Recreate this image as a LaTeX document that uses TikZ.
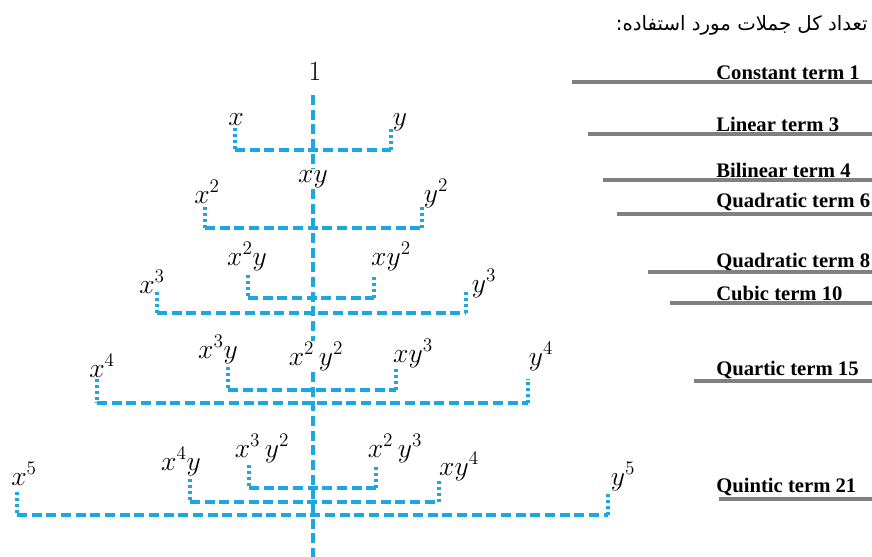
\documentclass[tikz,border=0pt]{standalone}
\usepackage{fontspec}
\usetikzlibrary{positioning}
\newfontfamily\termfont{Liberation Serif}
\newfontfamily\farsifont[Script=Arabic]{DejaVu Sans}
\TeXXeTstate=1
\definecolor{treeblue}{RGB}{27,168,224}
\definecolor{bargray}{RGB}{128,128,128}
\tikzset{
  monom/.style={inner sep=1pt, anchor=base, font=\fontsize{20}{24}\selectfont},
  termlbl/.style={anchor=base west, inner sep=0pt, font=\termfont\bfseries\fontsize{15.5}{18}\selectfont},
  termbar/.style={draw=bargray, line width=2.8pt},
  dotv/.style={draw=treeblue, line width=2.6pt, dash pattern=on 2.2pt off 2.2pt},
  dashh/.style={draw=treeblue, line width=2.6pt, dash pattern=on 7.5pt off 3.5pt},
  dashv/.style={dashh}
}
\begin{document}
\begin{tikzpicture}[x=0.75pt, y=-0.75pt]
\useasboundingbox (0,0) rectangle (872,557);

% title
\node[anchor=base east, inner sep=0pt, font=\farsifont\fontsize{14.8}{18}\selectfont] (title) at (868,30) {\beginR تعداد کل جملات مورد استفاده:\endR};

% monomials
\node[monom] (one) at (315,80) {$1$};
\node[monom] (x1) at (236,125) {$x$};
\node[monom] (y1) at (400,125) {$y$};
\node[monom] (xy) at (313,182) {$xy$};
\node[monom] (xx) at (207,203) {$x^2$};
\node[monom] (yy) at (436,202) {$y^2$};
\node[monom] (xxy) at (247,265) {$x^2y$};
\node[monom] (xyy) at (391,265) {$xy^2$};
\node[monom] (x3) at (152,293) {$x^3$};
\node[monom] (y3) at (484,292) {$y^3$};
\node[monom] (x3y) at (218,358) {$x^3y$};
\node[monom] (xxyy) at (316,365) {$x^2\,y^2$};
\node[monom] (xy3) at (413,362) {$xy^3$};
\node[monom] (x4) at (102,377) {$x^4$};
\node[monom] (y4) at (541,365) {$y^4$};
\node[monom] (x5) at (24,485) {$x^5$};
\node[monom] (x4y) at (181,470) {$x^4y$};
\node[monom] (x3yy) at (262,457) {$x^3\,y^2$};
\node[monom] (xxy3) at (395,457) {$x^2\,y^3$};
\node[monom] (xy4) at (459,475) {$xy^4$};
\node[monom] (y5) at (623,485) {$y^5$};

% centre line
\coordinate (top) at (313,95);
\coordinate (bot) at (313,557);
\draw[dashv] (top) -- (xy.north -| top);
\draw[dashv] (xy.south -| top) -- (xxyy.north -| top);
\draw[dashv] (xxyy.south -| top) -- (bot);

% brackets
\foreach \k/\xa/\xb/\ya/\yc in {1/235/391/128/150, 2/205/422/207/228, 3/248/374/275/298,
    4/157/466/292/313, 5/228/396/367/390, 6/97/528/379/403,
    7/249/376/465/488, 8/190/439/479/502, 9/17/608/492/515} {
  \coordinate (b\k a) at (\xa,\ya);
  \coordinate (b\k l) at (\xa,\yc);
  \coordinate (b\k r) at (\xb,\yc);
  \coordinate (b\k b) at (\xb,\ya);
  \draw[dotv] (b\k a) -- (b\k l);
  \draw[dashh] (b\k l) -- (b\k r);
  \draw[dotv] (b\k r) -- (b\k b);
}

% term counts
\coordinate (edge) at (872,0);
\foreach \t/\yb/\yl/\xs [count=\i] in {Constant term 1/79/82/572, Linear term 3/131/134/588,
    Bilinear term 4/177/180/603, Quadratic term 6/207/214/617, Quadratic term 8/267/272/648,
    Cubic term 10/300/303/670, Quartic term 15/375/381/694, Quintic term 21/492/499/719} {
  \node[termlbl] (term\i) at (716,\yb) {\t};
  \coordinate (bar\i) at (\xs,\yl);
  \draw[termbar] (bar\i) -- (bar\i -| edge);
}

\end{tikzpicture}
\end{document}
